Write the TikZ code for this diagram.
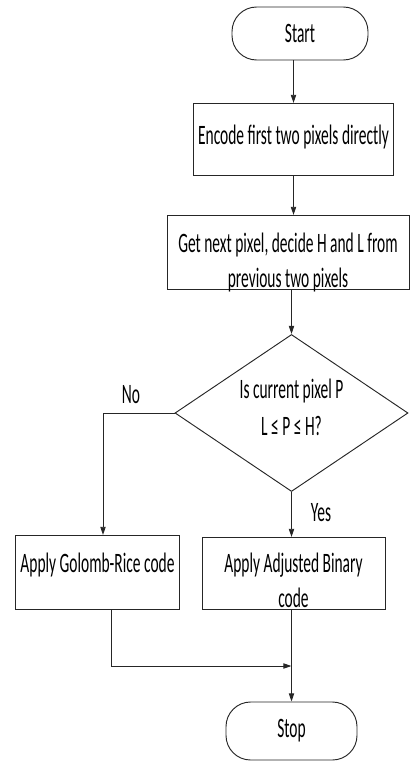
\documentclass[tikz,border=0pt]{standalone}
\usepackage{fontspec}
\newfontfamily\flowfont[FakeStretch=0.55]{Carlito}
\usetikzlibrary{arrows.meta,positioning,shapes.geometric}

\begin{document}
\begin{tikzpicture}[x=0.03cm,y=-0.03cm,
  every node/.style={font=\flowfont\fontsize{24}{30}\selectfont},
  flow/.style={draw=black!85,line width=0.8pt},
  box/.style={flow,rectangle,anchor=north,align=center,inner xsep=4pt,inner ysep=0pt},
  term/.style={flow,rectangle,rounded corners=21pt,inner sep=0pt},
  arr/.style={draw=black!85,line width=0.8pt,-{Triangle[length=7pt,width=4.5pt]}},
  ln/.style={draw=black!85,line width=0.8pt}]
  \def\joinY{666} % 合流線の高さ
  \useasboundingbox (0,0) rectangle (409,764); % 全体の大きさ
  \node[term,minimum width=4.08cm,minimum height=1.59cm] (start) at (300,33.5) {Start}; % 開始
  \node[box,minimum width=5.49cm,text height=1.23cm,text depth=0.93cm] (enc) at (293.5,103) {Encode first two pixels directly}; % 最初の2画素
  \node[box,minimum width=7.26cm,text height=2.16cm,text depth=0.06cm] (next) at (288,215) {Get next pixel, decide H and L from\\previous two pixels}; % 次の画素(2行目が基準線)
  \node[flow,diamond,aspect=1.49,minimum width=6.99cm,minimum height=4.71cm,inner sep=0pt,align=center,text height=1.35cm,text depth=-0.63cm] (cond) at (291.5,413) {Is current pixel P\\[2pt]L ≤ P ≤ H?}; % 判定
  \node[box,minimum width=4.77cm,text height=1.11cm,text depth=1.11cm] (golomb) at (97.5,535) {Apply Golomb-Rice code}; % No側
  \node[box,minimum width=5.49cm,text height=2.1cm,text depth=0.06cm] (binary) at (293.5,537) {Apply Adjusted Binary\\code}; % Yes側
  \node[term,minimum width=3.93cm,minimum height=1.74cm] (stop) at (291.5,731) {Stop}; % 終了
  \node (no) at (131,395) {No};
  \node (yes) at (321,513) {Yes};
  \coordinate (join) at (291.5,\joinY); % 合流点
  \draw[arr] (start.south -| enc.north) -- (enc.north);
  \draw[arr] (enc.south) -- (enc.south |- next.north);
  \draw[arr] (next.south -| cond.north) -- (cond.north);
  \draw[arr] (cond.west) -| ([xshift=0.165cm]golomb.north); % No
  \draw[arr] (cond.south) -- (cond.south |- binary.north); % Yes
  \draw[arr] ([xshift=0.405cm]golomb.south) |- (join);
  \draw[arr] (binary.south -| stop.north) -- (stop.north);
\end{tikzpicture}
\end{document}
